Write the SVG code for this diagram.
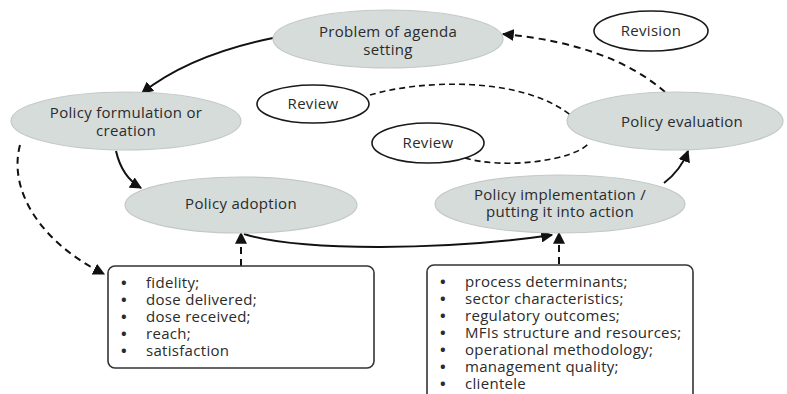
<svg xmlns="http://www.w3.org/2000/svg" width="787" height="394" viewBox="0 0 787 394">
  <style>
    .stage { fill: #d5dcda; stroke: #c3c9c7; stroke-width: 1.2; }
    .tag { fill: #ffffff; stroke: #1a1a1a; stroke-width: 1.6; }
    .box { fill: #ffffff; stroke: #333333; stroke-width: 1.6; }
    text { font-family: "Open Sans", "Liberation Sans", sans-serif; font-size: 15px; letter-spacing: 0.3px; fill: #2b2b2b; }
    .c { text-anchor: middle; }
    .b { font-weight: bold; }
    .link { fill: none; stroke: #111111; stroke-width: 2; }
    .dash { fill: none; stroke: #111111; stroke-width: 2; stroke-dasharray: 7 5; }
    .thin { fill: none; stroke: #111111; stroke-width: 1.6; stroke-dasharray: 6 4; }
  </style>
  <defs>
    <marker id="head" viewBox="0 0 10 10" refX="9" refY="5" markerWidth="6" markerHeight="6" markerUnits="strokeWidth" orient="auto">
      <path d="M0,0 L10,5 L0,10 z" fill="#111111"/>
    </marker>
  </defs>
  <rect width="787" height="394" fill="#ffffff"/>

  <!-- connectors -->
  <g id="connectors">
    <path class="link" d="M273,38 Q190,55 142,93" marker-end="url(#head)"/>
    <path class="link" d="M116,151 Q122,177 141,188" marker-end="url(#head)"/>
    <path class="link" d="M244,234 C300,252 450,250 552,235" marker-end="url(#head)"/>
    <path class="link" d="M664,183 Q681,170 688,151" marker-end="url(#head)"/>
    <path class="dash" d="M665,92 Q610,44 503,34" marker-end="url(#head)"/>
    <path class="thin" d="M370,95 C420,80 525,75 574,118"/>
    <path class="thin" d="M465,158 C500,169 575,162 590,142"/>
    <path class="dash" d="M20,145 C8,190 40,242 104,274" marker-end="url(#head)"/>
    <path class="dash" d="M241,266 L241,233" marker-end="url(#head)"/>
    <path class="dash" d="M559,264 L559,233" marker-end="url(#head)"/>
  </g>

  <!-- stage nodes -->
  <g id="agenda">
    <ellipse class="stage" cx="388" cy="39" rx="115" ry="29"/>
    <text class="c" x="388" y="37">Problem of agenda</text>
    <text class="c" x="388" y="55">setting</text>
  </g>
  <g id="formulation">
    <ellipse class="stage" cx="126" cy="121" rx="115" ry="29"/>
    <text class="c" x="126" y="118">Policy formulation or</text>
    <text class="c" x="126" y="136">creation</text>
  </g>
  <g id="adoption">
    <ellipse class="stage" cx="241" cy="205" rx="116" ry="28"/>
    <text class="c" x="241" y="209">Policy adoption</text>
  </g>
  <g id="implementation">
    <ellipse class="stage" cx="560" cy="204" rx="125" ry="29"/>
    <text class="c" x="560" y="200">Policy implementation /</text>
    <text class="c" x="560" y="217">putting it into action</text>
  </g>
  <g id="evaluation">
    <ellipse class="stage" cx="675" cy="121" rx="108" ry="29"/>
    <text class="c" x="682" y="127">Policy evaluation</text>
  </g>

  <!-- feedback labels -->
  <g id="review-1">
    <ellipse class="tag" cx="313" cy="104" rx="56" ry="19"/>
    <text class="c" x="313" y="109">Review</text>
  </g>
  <g id="review-2">
    <ellipse class="tag" cx="428" cy="143" rx="56" ry="20"/>
    <text class="c" x="428" y="148">Review</text>
  </g>
  <g id="revision">
    <ellipse class="tag" cx="651" cy="31" rx="57" ry="20"/>
    <text class="c" x="651" y="36">Revision</text>
  </g>

  <!-- indicator boxes -->
  <g id="adoption-measures">
    <rect class="box" x="108" y="266" width="266" height="102" rx="7"/>
    <text x="121" y="288"><tspan class="b">•</tspan><tspan x="146">fidelity;</tspan></text>
    <text x="121" y="305"><tspan class="b">•</tspan><tspan x="146">dose delivered;</tspan></text>
    <text x="121" y="322"><tspan class="b">•</tspan><tspan x="146">dose received;</tspan></text>
    <text x="121" y="339"><tspan class="b">•</tspan><tspan x="146">reach;</tspan></text>
    <text x="121" y="356"><tspan class="b">•</tspan><tspan x="146">satisfaction</tspan></text>
  </g>
  <g id="implementation-factors">
    <rect class="box" x="427" y="265" width="266" height="140" rx="7"/>
    <text x="440" y="287"><tspan class="b">•</tspan><tspan x="465">process determinants;</tspan></text>
    <text x="440" y="304"><tspan class="b">•</tspan><tspan x="465">sector characteristics;</tspan></text>
    <text x="440" y="321"><tspan class="b">•</tspan><tspan x="465">regulatory outcomes;</tspan></text>
    <text x="440" y="338"><tspan class="b">•</tspan><tspan x="465">MFIs structure and resources;</tspan></text>
    <text x="440" y="355"><tspan class="b">•</tspan><tspan x="465">operational methodology;</tspan></text>
    <text x="440" y="372"><tspan class="b">•</tspan><tspan x="465">management quality;</tspan></text>
    <text x="440" y="389"><tspan class="b">•</tspan><tspan x="465">clientele</tspan></text>
  </g>
</svg>
